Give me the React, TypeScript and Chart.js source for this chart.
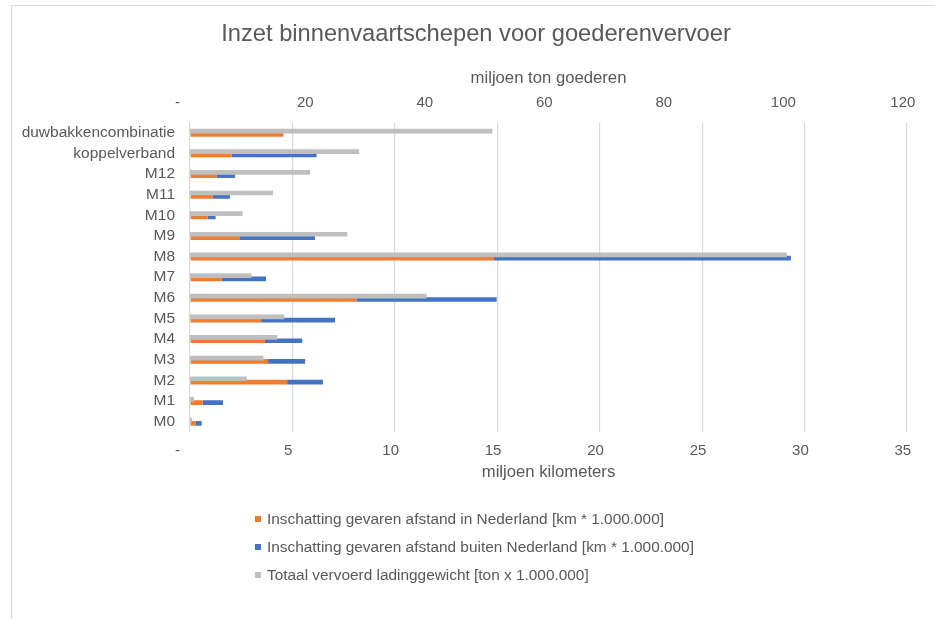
import React, { useEffect, useRef } from "react";
import { Chart, registerables } from "chart.js";

Chart.register(...registerables);

const categories = [
  "duwbakkencombinatie",
  "koppelverband",
  "M12",
  "M11",
  "M10",
  "M9",
  "M8",
  "M7",
  "M6",
  "M5",
  "M4",
  "M3",
  "M2",
  "M1",
  "M0",
];

// miljoen km in Nederland
const kmInNL = [4.56, 2.03, 1.3, 1.1, 0.86, 2.44, 14.84, 1.55, 8.14, 3.47, 3.66, 3.81, 4.74, 0.62, 0.28];
// miljoen km buiten Nederland
const kmBuitenNL = [0, 4.15, 0.9, 0.85, 0.39, 3.66, 14.49, 2.16, 6.83, 3.61, 1.82, 1.81, 1.75, 0.99, 0.29];
// miljoen ton lading
const tonLading = [50.6, 28.3, 20.1, 13.9, 8.8, 26.3, 99.9, 10.3, 39.6, 15.8, 14.6, 12.3, 9.5, 0.67, 0.3];

const kmTicks = [0, 5, 10, 15, 20, 25, 30, 35];
const tonTicks = [0, 20, 40, 60, 80, 100, 120];

const seriesLabels = [
  "Inschatting gevaren afstand in Nederland [km * 1.000.000]",
  "Inschatting gevaren afstand buiten Nederland [km * 1.000.000]",
  "Totaal vervoerd ladinggewicht [ton x 1.000.000]",
];
const seriesColors = ["#ED7D31", "#4472C4", "#BFBFBF"];

const TEXT = "#595959";
const FONT = "'Liberation Sans', Arial, sans-serif";

function fmt(v: number) {
  return v === 0 ? "-      " : String(v) + "  ";
}

export default function App() {
  const ref = useRef<HTMLCanvasElement | null>(null);

  useEffect(() => {
    if (!ref.current) return;
    const chart = new Chart(ref.current, {
      type: "bar",
      data: {
        labels: categories,
        datasets: [
          {
            label: seriesLabels[2],
            data: tonLading,
            backgroundColor: seriesColors[2],
            xAxisID: "x2",
            stack: "ton",
          },
          {
            label: seriesLabels[0],
            data: kmInNL,
            backgroundColor: seriesColors[0],
            xAxisID: "x",
            stack: "km",
          },
          {
            label: seriesLabels[1],
            data: kmBuitenNL,
            backgroundColor: seriesColors[1],
            xAxisID: "x",
            stack: "km",
          },
        ],
      },
      options: {
        indexAxis: "y",
        animation: false,
        responsive: false,
        maintainAspectRatio: false,
        categoryPercentage: 0.32,
        barPercentage: 1.42,
        layout: { padding: { left: 0, right: 0, top: 0, bottom: 137 } },
        plugins: {
          legend: { display: false },
          tooltip: { enabled: false },
          title: {
            display: true,
            text: "Inzet binnenvaartschepen voor goederenvervoer",
            color: TEXT,
            font: { family: FONT, size: 23.7, weight: "normal" },
            padding: { top: 14, bottom: 10 },
          },
        },
        scales: {
          y: {
            type: "category",
            position: "left",
            grid: { display: false, drawTicks: false },
            border: { display: false },
            ticks: {
              color: TEXT,
              font: { family: FONT, size: 15.5 },
              padding: 15,
              autoSkip: false,
            },
            afterFit: (s: any) => {
              s.width = 178;
            },
          },
          yR: {
            type: "category",
            axis: "y",
            position: "right",
            grid: { display: false, drawTicks: false },
            border: { display: false },
            ticks: { display: false },
            afterFit: (s: any) => {
              s.width = 33;
            },
          },
          x: {
            type: "linear",
            position: "bottom",
            stacked: true,
            min: kmTicks[0],
            max: kmTicks[kmTicks.length - 1],
            afterBuildTicks: (s: any) => {
              s.ticks = kmTicks.map((v) => ({ value: v }));
            },
            grid: { color: "#D9D9D9", lineWidth: 1.2, drawTicks: false },
            border: { display: false },
            ticks: {
              color: TEXT,
              font: { family: FONT, size: 15 },
              padding: 10,
              maxRotation: 0,
              callback: (v: any) => fmt(Number(v)),
            },
            title: {
              display: true,
              text: "miljoen kilometers",
              color: TEXT,
              font: { family: FONT, size: 16.7 },
              padding: { top: 0, bottom: 0 },
            },
            afterFit: (s: any) => {
              s.height = 50;
            },
          },
          x2: {
            type: "linear",
            position: "top",
            stacked: false,
            min: tonTicks[0],
            max: tonTicks[tonTicks.length - 1],
            afterBuildTicks: (s: any) => {
              s.ticks = tonTicks.map((v) => ({ value: v }));
            },
            grid: { display: false, drawTicks: false },
            border: { display: false },
            ticks: {
              color: TEXT,
              font: { family: FONT, size: 15 },
              padding: 11,
              maxRotation: 0,
              callback: (v: any) => fmt(Number(v)),
            },
            title: {
              display: true,
              text: "miljoen ton goederen",
              color: TEXT,
              font: { family: FONT, size: 16.7 },
              padding: { top: 9.5, bottom: 0 },
            },
            afterFit: (s: any) => {
              s.height = 63.96;
            },
          },
        },
      } as any,
    });
    return () => chart.destroy();
  }, []);

  const legendOrder = [0, 1, 2];

  return (
    <div
      style={{
        position: "fixed",
        left: 0,
        top: 0,
        width: 935,
        height: 619,
        overflow: "hidden",
        background: "#fff",
      }}
    >
      <div
        style={{
          position: "absolute",
          left: 11,
          top: 5,
          width: 940,
          height: 640,
          borderLeft: "1px solid #D9D9D9",
          borderTop: "1px solid #D9D9D9",
        }}
      >
        <canvas ref={ref} width={928} height={613} style={{ display: "block", width: 928, height: 613 }} />
      </div>
      {legendOrder.map((i, k) => (
        <div
          key={i}
          style={{
            position: "absolute",
            left: 255,
            top: 519 + k * 28 - 10,
            height: 20,
            display: "flex",
            alignItems: "center",
            fontFamily: FONT,
            fontSize: 15.4,
            color: TEXT,
            whiteSpace: "nowrap",
          }}
        >
          <span
            style={{
              display: "inline-block",
              width: 6,
              height: 6,
              background: seriesColors[i],
              marginRight: 6,
            }}
          />
          <span>{seriesLabels[i]}</span>
        </div>
      ))}
    </div>
  );
}
